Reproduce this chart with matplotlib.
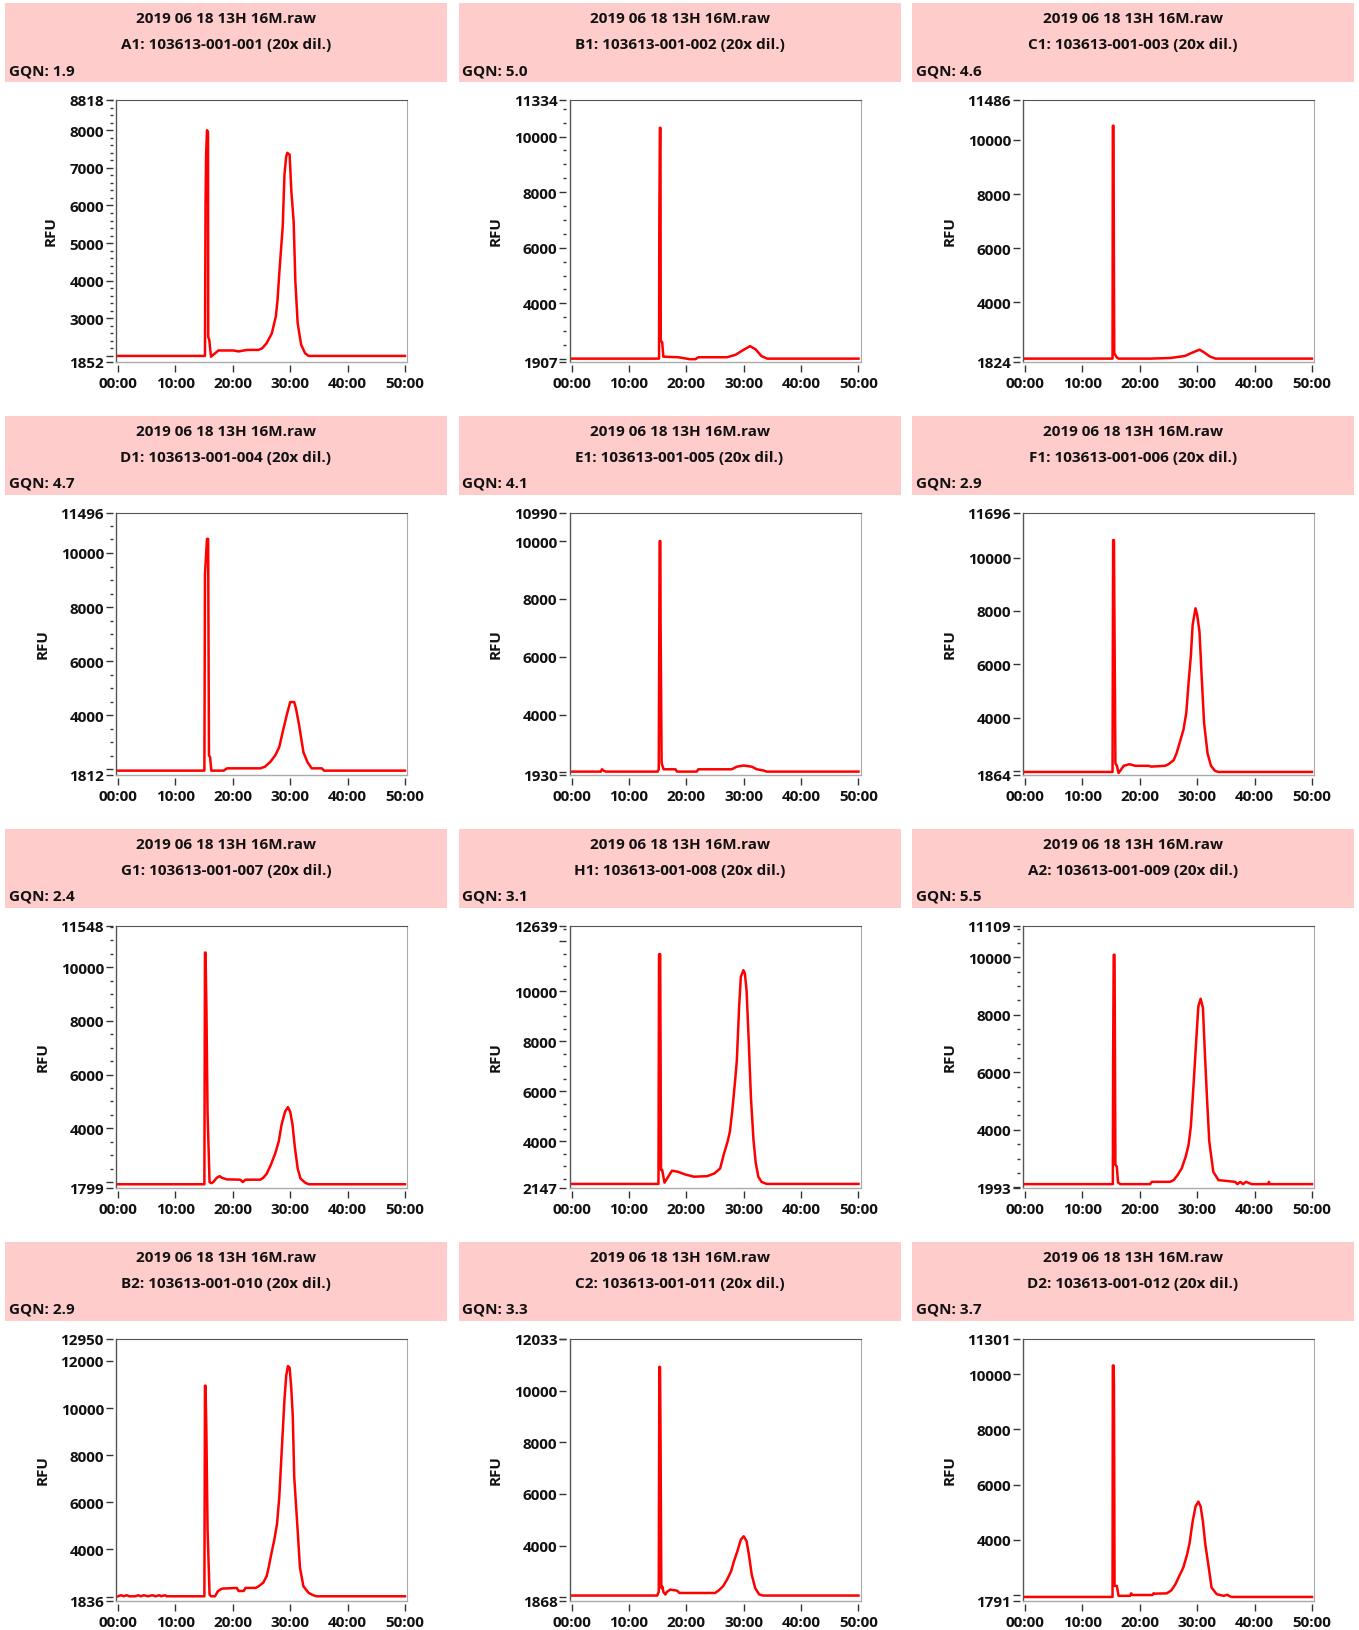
import matplotlib.pyplot as plt
from matplotlib.patches import Rectangle
from matplotlib.lines import Line2D
from matplotlib.ticker import FixedLocator

plt.rcParams['font.family'] = ['Open Sans', 'DejaVu Sans']
plt.rcParams['font.weight'] = 'bold'

# %%
run_name = "2019 06 18 13H 16M.raw"
wells = ["A1", "B1", "C1", "D1", "E1", "F1", "G1", "H1", "A2", "B2", "C2", "D2"]
samples = ["103613-001-001", "103613-001-002", "103613-001-003", "103613-001-004",
           "103613-001-005", "103613-001-006", "103613-001-007", "103613-001-008",
           "103613-001-009", "103613-001-010", "103613-001-011", "103613-001-012"]
gqn = ["1.9", "5.0", "4.6", "4.7", "4.1", "2.9", "2.4", "3.1", "5.5", "2.9", "3.3", "3.7"]

y_min = [1852, 1907, 1824, 1812, 1930, 1864, 1799, 2147, 1993, 1836, 1868, 1791]
y_max = [8818, 11334, 11486, 11496, 10990, 11696, 11548, 12639, 11109, 12950, 12033, 11301]
y_step = [1000, 2000, 2000, 2000, 2000, 2000, 2000, 2000, 2000, 2000, 2000, 2000]
y_minor = [200, 500, None, 500, None, None, 500, 500, 500, None, None, None]

x_ticks = [0, 10, 20, 30, 40, 50]
x_labels = ["00:00", "10:00", "20:00", "30:00", "40:00", "50:00"]

# tempo (min) e RFU de cada poço
a1_t = [0, 15.15, 15.25, 15.35, 15.5, 15.68, 15.72, 15.9, 16.2, 17.5, 20.1, 21.0, 22.5, 24.5, 25.1,
        25.9, 26.8, 27.5, 27.8, 28.1, 28.7, 29.0, 29.3, 29.5, 29.9, 30.2, 30.6, 30.9, 31.3, 31.9,
        32.6, 33.2, 50]
a1_rfu = [2000, 2000, 6000, 7350, 8000, 7950, 2500, 2430, 1980, 2145, 2145, 2120, 2160, 2160, 2200,
          2340, 2600, 3050, 3500, 4200, 5450, 6820, 7300, 7400, 7350, 6380, 5580, 3980, 2870, 2300,
          2070, 2000, 2000]

b1_t = [0, 15.25, 15.3, 15.4, 15.5, 15.55, 15.8, 16.0, 18.6, 20.6, 21.6, 22.1, 27.1, 28.6, 29.6,
        31.1, 32.1, 33.1, 34.1, 50]
b1_rfu = [2010, 2010, 6950, 10315, 10315, 2650, 2600, 2080, 2060, 1990, 1990, 2060, 2060, 2150, 2280,
          2460, 2340, 2100, 2010, 2010]

c1_t = [0, 15.25, 15.3, 15.42, 15.47, 15.55, 16.0, 16.3, 21.9, 25.4, 27.9, 28.9, 30.4, 31.2, 32.2, 33.2, 50]
c1_rfu = [1930, 1930, 10520, 10520, 6770, 2130, 1970, 1930, 1930, 1955, 2030, 2130, 2260, 2160, 2010,
          1930, 1930]

d1_t = [0, 15.05, 15.15, 15.5, 15.7, 15.85, 16.05, 16.25, 18.4, 19.0, 24.8, 25.6, 26.5, 27.4, 28.1,
        28.7, 29.4, 30.0, 30.7, 31.0, 31.55, 32.3, 33.0, 33.75, 35.5, 35.9, 50]
d1_rfu = [1955, 1955, 9190, 10520, 10520, 2520, 2450, 1955, 1955, 2040, 2040, 2100, 2270, 2520, 2830,
          3390, 4010, 4490, 4490, 4260, 3640, 2640, 2270, 2040, 2040, 1955, 1955]

e1_t = [0, 5.1, 5.3, 5.6, 6.0, 15.0, 15.2, 15.35, 15.48, 15.52, 15.7, 16.05, 18.1, 18.4, 21.8, 22.1,
        27.9, 28.8, 30.0, 31.4, 32.3, 33.4, 34.0, 50]
e1_rfu = [2030, 2030, 2110, 2060, 2030, 2030, 2110, 10000, 10000, 7160, 2320, 2110, 2110, 2030, 2030,
          2110, 2110, 2200, 2240, 2200, 2110, 2070, 2030, 2030]

f1_t = [0, 15.25, 15.35, 15.5, 15.55, 15.75, 16.0, 16.3, 17.2, 18.2, 19.2, 21.5, 22.0, 24.4, 25.0,
        25.9, 26.4, 27.1, 27.6, 28.1, 28.5, 28.9, 29.2, 29.7, 30.0, 30.4, 30.8, 31.2, 31.8, 32.4,
        33.1, 33.7, 50]
f1_rfu = [1960, 1960, 10660, 10660, 8730, 2280, 2200, 1920, 2190, 2250, 2190, 2190, 2160, 2190, 2250,
          2400, 2660, 3170, 3540, 4180, 5320, 6330, 7470, 8100, 7850, 7220, 5440, 3800, 2660, 2190,
          2000, 1960, 1960]

g1_t = [0, 15.05, 15.15, 15.25, 15.4, 15.6, 15.95, 16.25, 16.6, 17.2, 17.7, 18.1, 19.0, 21.3, 21.75,
        22.2, 24.8, 25.3, 25.9, 26.6, 27.4, 28.0, 28.5, 29.1, 29.6, 30.0, 30.4, 30.8, 31.3, 31.8,
        32.6, 33.2, 50]
g1_rfu = [1920, 1920, 10540, 10540, 8530, 4580, 2000, 1960, 2000, 2160, 2220, 2160, 2100, 2090, 2000,
          2090, 2090, 2160, 2310, 2630, 3070, 3510, 4140, 4620, 4790, 4620, 4140, 3320, 2510, 2130,
          1980, 1920, 1920]

h1_t = [0, 15.15, 15.25, 15.45, 15.6, 15.8, 16.2, 17.5, 18.5, 19.8, 21.3, 23.6, 24.9, 25.9, 26.5,
        27.2, 27.6, 28.0, 28.5, 28.8, 29.2, 29.5, 29.95, 30.2, 30.5, 30.9, 31.25, 31.7, 32.1, 32.55,
        33.1, 34.0, 50]
h1_rfu = [2290, 2290, 11490, 11490, 2850, 2850, 2340, 2820, 2780, 2670, 2580, 2600, 2710, 2910, 3450,
          3990, 4390, 5200, 6410, 7220, 9370, 10580, 10850, 10720, 10040, 7890, 5800, 4060, 3120, 2580,
          2370, 2290, 2290]

a2_t = [0, 15.3, 15.35, 15.45, 15.6, 15.75, 16.0, 16.2, 16.6, 21.8, 22.1, 25.3, 25.9, 26.6, 27.3,
        28.0, 28.5, 28.9, 29.3, 29.8, 30.2, 30.6, 31.0, 31.3, 31.7, 32.1, 32.8, 33.7, 36.6, 37.0,
        37.5, 38.0, 38.5, 39.5, 42.4, 42.5, 42.6, 50]
a2_rfu = [2110, 2110, 6420, 10090, 10090, 2780, 2720, 2170, 2110, 2110, 2190, 2190, 2250, 2430, 2660,
          3070, 3480, 4130, 5360, 7010, 8300, 8560, 8240, 6830, 5130, 3600, 2540, 2250, 2190, 2110,
          2190, 2110, 2190, 2110, 2110, 2190, 2110, 2110]

b2_t = [0, 0.5, 1.0, 1.5, 2.0, 3.0, 3.5, 4.0, 4.5, 5.2, 6.0, 6.5, 7.2, 7.5, 8.2, 8.5, 15.05, 15.15,
        15.25, 15.4, 15.6, 15.95, 16.2, 16.9, 17.4, 18.1, 20.7, 21.0, 21.9, 22.2, 24.0, 24.5, 25.3,
        25.9, 26.3, 26.7, 27.2, 27.7, 28.1, 28.5, 29.0, 29.3, 29.6, 29.9, 30.2, 30.45, 30.7, 31.3,
        31.7, 32.3, 33.2, 34.0, 34.6, 50]
b2_rfu = [2015, 2060, 2015, 2060, 2015, 2015, 2060, 2015, 2060, 2015, 2060, 2015, 2060, 2015, 2060,
          2015, 2015, 10950, 10950, 8930, 4870, 2090, 2015, 2015, 2230, 2340, 2370, 2240, 2240, 2370,
          2370, 2440, 2590, 2870, 3300, 3800, 4370, 5080, 6220, 8080, 10360, 11360, 11780, 11710,
          10790, 9640, 7080, 4800, 3230, 2440, 2160, 2060, 2015, 2015]

c2_t = [0, 14.95, 15.1, 15.2, 15.3, 15.42, 15.5, 15.65, 15.85, 16.0, 16.35, 16.6, 17.2, 18.4, 18.8,
        25.0, 25.6, 26.4, 27.1, 27.8, 28.3, 28.9, 29.5, 30.0, 30.5, 30.9, 31.4, 32.0, 32.7, 33.4, 50]
c2_rfu = [2060, 2060, 2160, 2200, 10930, 10930, 8640, 2350, 2400, 2200, 2100, 2200, 2290, 2250, 2160,
          2160, 2250, 2420, 2680, 3000, 3390, 3780, 4230, 4360, 4170, 3650, 2870, 2350, 2100, 2060, 2060]

d2_t = [0, 15.25, 15.3, 15.45, 15.5, 15.6, 16.0, 16.3, 18.3, 18.5, 18.7, 22.2, 22.4, 22.6, 24.7,
        25.5, 26.2, 26.9, 27.6, 28.2, 28.65, 29.2, 29.7, 30.2, 30.6, 31.0, 31.4, 32.0, 32.5, 33.4,
        34.6, 35.3, 35.5, 36.0, 50]
d2_rfu = [1920, 1920, 10320, 10320, 9550, 2320, 2320, 1960, 1960, 2050, 1990, 1990, 2050, 2040, 2050,
          2160, 2380, 2690, 3000, 3430, 3850, 4650, 5200, 5380, 5200, 4650, 3850, 3000, 2260, 2020,
          1960, 2000, 1960, 1920, 1920]

times = [a1_t, b1_t, c1_t, d1_t, e1_t, f1_t, g1_t, h1_t, a2_t, b2_t, c2_t, d2_t]
rfus = [a1_rfu, b1_rfu, c1_rfu, d1_rfu, e1_rfu, f1_rfu, g1_rfu, h1_rfu, a2_rfu, b2_rfu, c2_rfu, d2_rfu]

# %%
W, H = 1359, 1631
FS = 11
TXT = '#111111'


def eixo_y(ax, lo, hi, step, minor):
    majors = [lo]
    labels = [str(lo)]
    v = (lo // step + 1) * step
    while v < hi:
        majors.append(v)
        near = min(v - lo, hi - v) / (hi - lo) < 0.07
        labels.append('' if near else str(v))
        v += step
    majors.append(hi)
    labels.append(str(hi))
    ax.set_yticks(majors)
    ax.set_yticklabels(labels)
    if minor:
        m = [x for x in range((lo // minor + 1) * minor, hi, minor) if x % step != 0]
        ax.yaxis.set_minor_locator(FixedLocator(m))
    ax.set_ylim(lo, hi)


def painel(fig, i):
    r, c = divmod(i, 3)
    hx = 5 + c * 453.5
    hy = 4 + r * 413

    fig.add_artist(Rectangle((hx / W, 1 - (hy + 79) / H), 442 / W, 79 / H,
                             transform=fig.transFigure, facecolor='#ffcccc', edgecolor='none'))
    fig.text((hx + 221) / W, 1 - (hy + 15) / H, run_name, ha='center', va='center',
             fontsize=FS, fontweight='bold', color=TXT)
    fig.text((hx + 221) / W, 1 - (hy + 41) / H, f"{wells[i]}: {samples[i]} (20x dil.)",
             ha='center', va='center', fontsize=FS, fontweight='bold', color=TXT)
    fig.text((hx + 4) / W, 1 - (hy + 67) / H, f"GQN: {gqn[i]}", ha='left', va='center',
             fontsize=FS, fontweight='bold', color=TXT)

    ax = fig.add_axes([(hx + 111) / W, 1 - (hy + 96.5 + 262) / H, 291 / W, 262 / H])
    ax.plot(times[i], rfus[i], color='#ff0000', lw=1.8)

    ax.set_xlim(-0.35, 50.35)
    ax.set_xticks(x_ticks)
    ax.set_xticklabels(x_labels)
    eixo_y(ax, y_min[i], y_max[i], y_step[i], y_minor[i])

    for s in ['left', 'bottom']:
        ax.spines[s].set_position(('outward', 2.2))
        ax.spines[s].set_visible(False)
    ax.spines['top'].set_color('#555555')
    ax.spines['right'].set_color('#aaaaaa')
    ax.add_line(Line2D([0, 0], [0, 1], transform=ax.transAxes, color='#555555', lw=1.0, clip_on=False))
    ax.add_line(Line2D([0, 1], [0, 0], transform=ax.transAxes, color='#aaaaaa', lw=1.0, clip_on=False))

    ax.tick_params(axis='y', which='major', length=5, width=1, color='#333333', pad=1.5,
                   labelsize=FS, labelcolor=TXT)
    ax.tick_params(axis='y', which='minor', length=2.5, width=1, color='#333333')
    ax.tick_params(axis='x', which='major', length=5, width=1, color='#333333', pad=3,
                   labelsize=FS, labelcolor=TXT)
    for lab in ax.get_xticklabels() + ax.get_yticklabels():
        lab.set_fontweight('bold')
    ax.set_ylabel('RFU', fontsize=FS, fontweight='bold', color=TXT, labelpad=8)


fig = plt.figure(figsize=(W / 100, H / 100), dpi=100)
for i in range(12):
    painel(fig, i)

fig.savefig('out.png', dpi=100, facecolor='white')
